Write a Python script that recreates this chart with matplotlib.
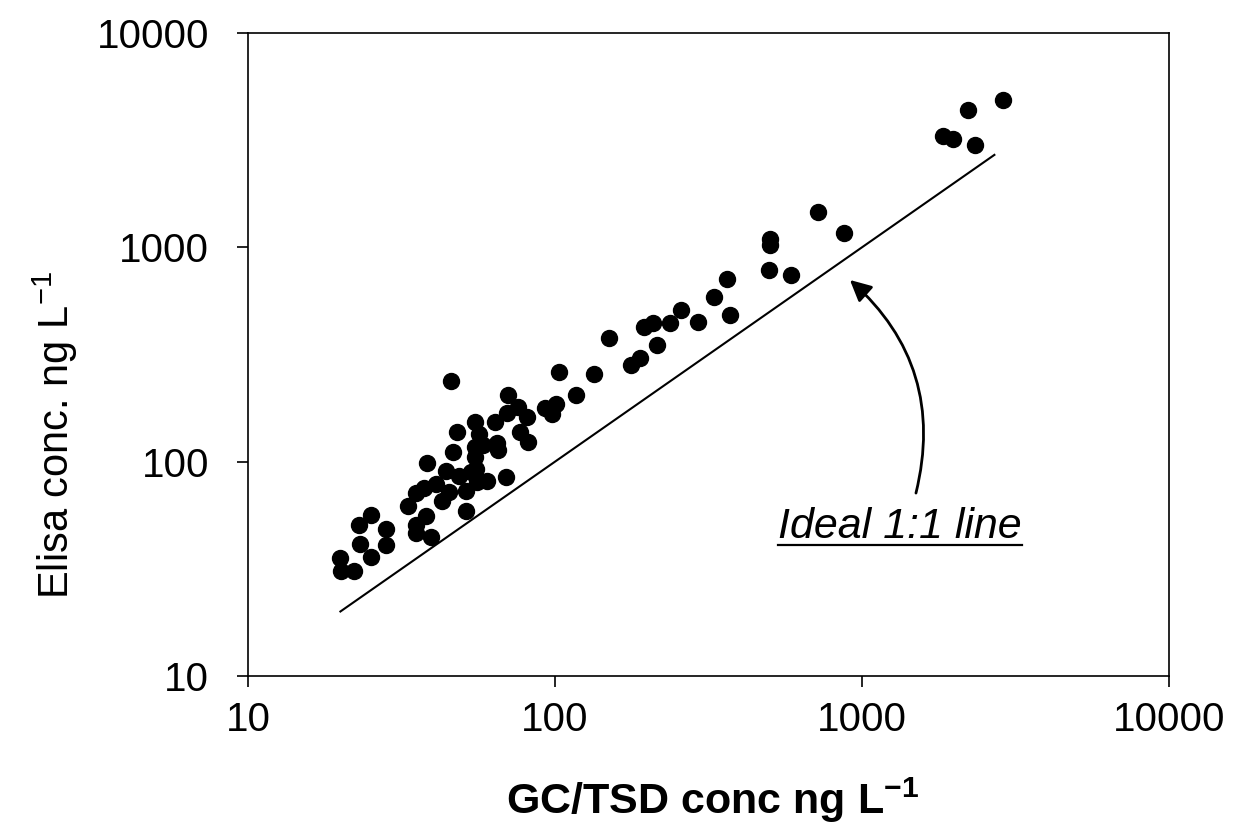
import matplotlib
matplotlib.use("Agg")
import matplotlib.pyplot as plt
from matplotlib.lines import Line2D

plt.rcParams['font.family'] = ['Liberation Sans', 'DejaVu Sans']
plt.rcParams['mathtext.fontset'] = 'custom'
plt.rcParams['mathtext.rm'] = 'Liberation Sans'
plt.rcParams['mathtext.it'] = 'Liberation Sans:italic'
plt.rcParams['mathtext.bf'] = 'Liberation Sans:bold'
plt.rcParams['mathtext.default'] = 'regular'

# ---- data ----
gc_conc = [20.0, 20.1, 22.2, 23.0, 25.2, 28.2, 23.1, 28.1, 25.2,
           33.3, 35.2, 38.1, 35.3, 35.2, 39.4, 37.4, 40.9, 42.7, 45.1,
           38.4, 51.4, 44.2, 45.8, 48.0, 46.4, 55.0, 56.5, 54.8, 58.1,
           54.7, 55.4, 48.7, 53.3, 51.2, 60.0, 55.7, 63.8, 64.6, 65.0,
           69.3, 70.1, 75.5, 70.0, 81.3, 76.9, 81.5, 93.1, 100.4, 98.1,
           103.2, 116.8, 134.2, 149.8, 177.4, 189.9, 195.0, 208.9, 237.1,
           214.6, 256.4, 293.0, 328.9, 363.7, 372.7, 501.0, 501.0, 499.0,
           588.0, 721.0, 874.0, 1836.0, 1977.0, 2223.0, 2331.0, 2873.0]
elisa_conc = [35.6, 31.0, 30.9, 50.6, 56.1, 48.7, 41.3, 41.0, 36.1,
              62.1, 71.3, 55.5, 50.5, 46.3, 44.7, 75.0, 79.0, 65.7, 72.3,
              98.1, 58.7, 90.7, 238.0, 137.6, 111.0, 152.6, 134.0, 116.6, 120.2,
              104.7, 92.0, 85.7, 89.2, 72.8, 81.0, 80.0, 153.5, 122.5, 113.5,
              84.8, 204.8, 179.6, 168.8, 161.0, 137.1, 122.9, 178.5, 185.9, 167.0,
              262.0, 203.9, 257.0, 377.7, 284.0, 305.7, 426.6, 444.0, 442.5,
              350.5, 507.6, 449.8, 586.0, 709.0, 486.0, 1090.0, 1020.0, 787.0,
              743.0, 1456.0, 1170.0, 3303.0, 3190.0, 4350.0, 3015.0, 4867.0]
ideal_line = [20, 2700]
tick_values = [10, 100, 1000, 10000]
tick_labels = ['10', '100', '1000', '10000']

fig = plt.figure(figsize=(12.4, 8.31), dpi=100)
ax = fig.add_axes([0.2, 0.1865, 0.7427, 0.7738])
ax.set_xscale('log')
ax.set_yscale('log')
ax.set_xlim(10, 10000)
ax.set_ylim(10, 10000)

ax.plot(ideal_line, ideal_line, color='black', lw=1.5, zorder=2)
ax.plot(gc_conc, elisa_conc, linestyle='none', marker='o', markersize=11.5,
        markerfacecolor='black', markeredgecolor='black', zorder=3)

ax.set_xticks(tick_values)
ax.set_xticklabels(tick_labels)
ax.set_yticks(tick_values)
ax.set_yticklabels(tick_labels)
ax.minorticks_off()
ax.tick_params(axis='both', which='major', direction='out', length=8,
               width=1.2, labelsize=29)
ax.tick_params(axis='x', pad=10)
ax.tick_params(axis='y', pad=20)
for sp in ax.spines.values():
    sp.set_linewidth(1.2)

ax.set_xlabel(r'GC/TSD conc ng L$^{\mathbf{-1}}$', fontsize=31, fontweight='bold')
ax.xaxis.set_label_coords(0.505, -0.155)
ax.set_ylabel(r'Elisa conc. ng L$^{-1}$', fontsize=30)
ax.yaxis.set_label_coords(-0.182, 0.375)

txt = ax.text(0.5755, 0.2146, 'Ideal 1:1 line', transform=ax.transAxes,
              fontsize=31, fontstyle='italic', ha='left', va='baseline')

ax.annotate('', xy=(0.6536, 0.6159), xytext=(0.7253, 0.2845),
            xycoords='axes fraction', textcoords='axes fraction',
            arrowprops=dict(arrowstyle='-|>', connectionstyle='arc3,rad=0.3',
                            lw=2, color='black', mutation_scale=32,
                            shrinkA=0, shrinkB=0))

# underline of the annotation text
fig.canvas.draw()
bb = txt.get_window_extent(renderer=fig.canvas.get_renderer())
inv = fig.transFigure.inverted()
(x0, y0), (x1, y1) = inv.transform([(bb.x0, bb.y0), (bb.x1, bb.y0)])
fig.add_artist(Line2D([x0, x1], [y0 + 0.002, y0 + 0.002], color='black',
                      lw=1.6, transform=fig.transFigure))

fig.savefig('out.png', dpi=100)
